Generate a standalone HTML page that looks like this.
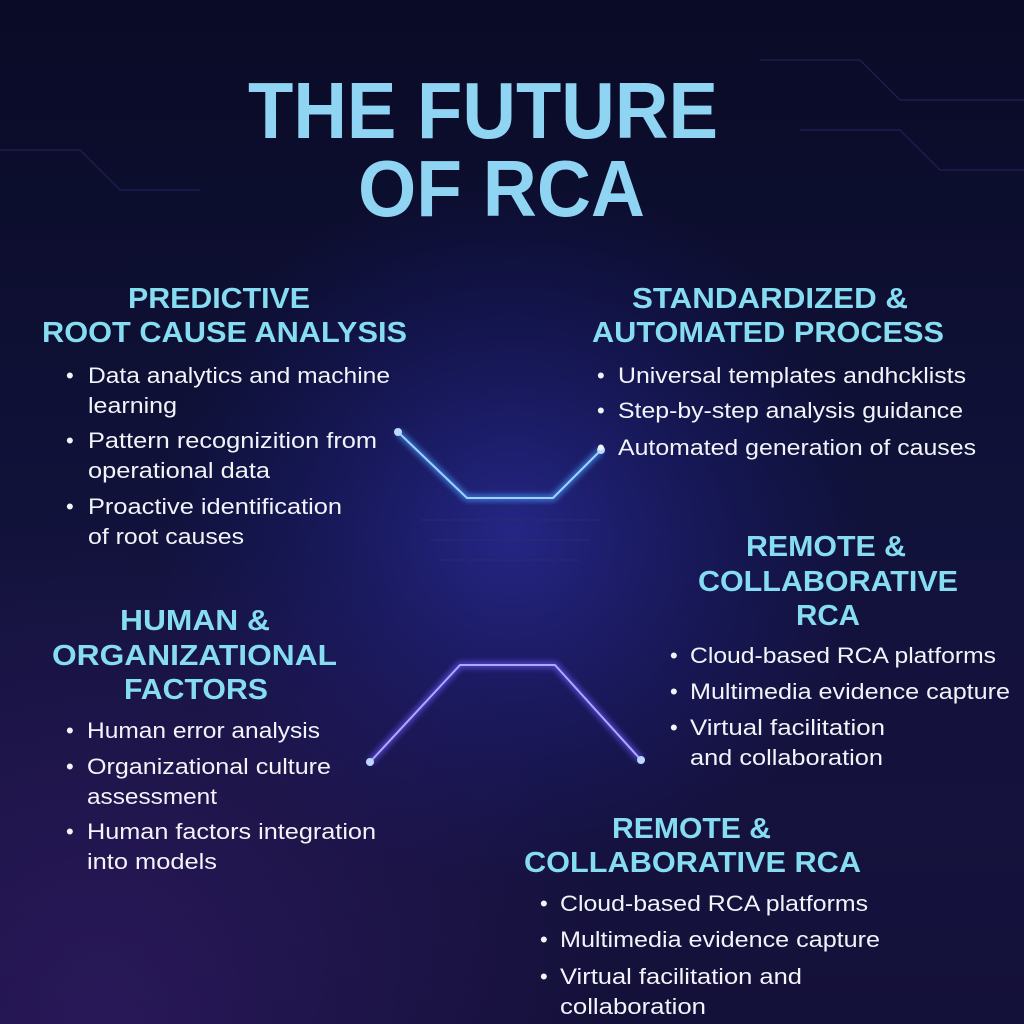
<!DOCTYPE html>
<html><head><meta charset="utf-8"><style>
html,body{margin:0;padding:0;background:#0a0b28;}
svg{display:block}
.t{font-family:"Liberation Sans",sans-serif;font-weight:bold;fill:#8fd4f2}
.h{font-family:"Liberation Sans",sans-serif;font-weight:bold;fill:#86dcf0;font-size:29px}
.b{font-family:"Liberation Sans",sans-serif;fill:#f2f4fa;font-size:22px}
</style></head><body>
<svg width="1024" height="1024" viewBox="0 0 1024 1024" xmlns="http://www.w3.org/2000/svg">
<defs>
<linearGradient id="bg" x1="0" y1="0" x2="0" y2="1">
<stop offset="0" stop-color="#0a0b26"/><stop offset="0.5" stop-color="#10123a"/><stop offset="1" stop-color="#22175050"/>
</linearGradient>
<radialGradient id="glow" cx="0.5" cy="0.52" r="0.35">
<stop offset="0" stop-color="#3a3ad0" stop-opacity="0.5"/><stop offset="1" stop-color="#2020a0" stop-opacity="0"/>
</radialGradient>
<radialGradient id="glow2" cx="0.1" cy="1" r="0.5">
<stop offset="0" stop-color="#4a2488" stop-opacity="0.4"/><stop offset="1" stop-color="#4a2488" stop-opacity="0"/>
</radialGradient>
<filter id="gl"><feGaussianBlur stdDeviation="3"/></filter>
</defs>
<rect width="1024" height="1024" fill="#0c0d2e"/>
<rect width="1024" height="1024" fill="url(#bg)"/>
<rect width="1024" height="1024" fill="url(#glow)"/>
<rect width="1024" height="1024" fill="url(#glow2)"/>
<g stroke="#2a3070" stroke-width="1.5" fill="none" opacity="0.5">
<path d="M760 60 L860 60 L900 100 L1024 100"/><path d="M800 130 L900 130 L940 170 L1024 170"/>
<path d="M0 150 L80 150 L120 190 L200 190"/><path d="M420 520 L600 520"/><path d="M430 540 L590 540"/><path d="M440 560 L580 560"/>
</g>
<g fill="none" stroke-linejoin="round">
<path d="M398 432 L467 498 L553 498 L601 450" stroke="#4aa0ff" stroke-width="6" filter="url(#gl)" opacity="0.7"/>
<path d="M398 432 L467 498 L553 498 L601 450" stroke="#9fd0ff" stroke-width="2"/>
<path d="M370 762 L460 665 L555 665 L641 760" stroke="#6a5aff" stroke-width="6" filter="url(#gl)" opacity="0.7"/>
<path d="M370 762 L460 665 L555 665 L641 760" stroke="#b0a8ff" stroke-width="2"/>
</g>
<g fill="#bcd8ff"><circle cx="398" cy="432" r="4"/><circle cx="601" cy="450" r="4"/><circle cx="370" cy="762" r="4"/><circle cx="641" cy="760" r="4"/></g>

<text class="t" font-size="80" x="248" y="138" textLength="470" lengthAdjust="spacingAndGlyphs">THE FUTURE</text>
<text class="t" font-size="80" x="358" y="216" textLength="287" lengthAdjust="spacingAndGlyphs">OF RCA</text>

<text class="h" x="128" y="308" textLength="182" lengthAdjust="spacingAndGlyphs">PREDICTIVE</text>
<text class="h" x="42" y="342" textLength="365" lengthAdjust="spacingAndGlyphs">ROOT CAUSE ANALYSIS</text>
<text class="h" x="632" y="308" textLength="276" lengthAdjust="spacingAndGlyphs">STANDARDIZED &amp;</text>
<text class="h" x="592" y="342" textLength="352" lengthAdjust="spacingAndGlyphs">AUTOMATED PROCESS</text>
<text class="h" x="746" y="556" textLength="160" lengthAdjust="spacingAndGlyphs">REMOTE &amp;</text>
<text class="h" x="698" y="591" textLength="260" lengthAdjust="spacingAndGlyphs">COLLABORATIVE</text>
<text class="h" x="796" y="625" textLength="64" lengthAdjust="spacingAndGlyphs">RCA</text>
<text class="h" x="120" y="630" textLength="150" lengthAdjust="spacingAndGlyphs">HUMAN &amp;</text>
<text class="h" x="52" y="665" textLength="285" lengthAdjust="spacingAndGlyphs">ORGANIZATIONAL</text>
<text class="h" x="124" y="699" textLength="144" lengthAdjust="spacingAndGlyphs">FACTORS</text>
<text class="h" x="612" y="838" textLength="159" lengthAdjust="spacingAndGlyphs">REMOTE &amp;</text>
<text class="h" x="524" y="872" textLength="337" lengthAdjust="spacingAndGlyphs">COLLABORATIVE RCA</text>

<g class="b">
<text x="66" y="383">•</text><text x="88" y="383" textLength="302" lengthAdjust="spacingAndGlyphs">Data analytics and machine</text>
<text x="88" y="413" textLength="89" lengthAdjust="spacingAndGlyphs">learning</text>
<text x="66" y="448">•</text><text x="88" y="448" textLength="289" lengthAdjust="spacingAndGlyphs">Pattern recognizition from</text>
<text x="88" y="478" textLength="182" lengthAdjust="spacingAndGlyphs">operational data</text>
<text x="66" y="514">•</text><text x="88" y="514" textLength="254" lengthAdjust="spacingAndGlyphs">Proactive identification</text>
<text x="88" y="544" textLength="156" lengthAdjust="spacingAndGlyphs">of root causes</text>

<text x="597" y="383">•</text><text x="618" y="383" textLength="348" lengthAdjust="spacingAndGlyphs">Universal templates andhcklists</text>
<text x="597" y="418">•</text><text x="618" y="418" textLength="345" lengthAdjust="spacingAndGlyphs">Step-by-step analysis guidance</text>
<text x="597" y="455">•</text><text x="618" y="455" textLength="358" lengthAdjust="spacingAndGlyphs">Automated generation of causes</text>

<text x="670" y="663">•</text><text x="690" y="663" textLength="306" lengthAdjust="spacingAndGlyphs">Cloud-based RCA platforms</text>
<text x="670" y="699">•</text><text x="690" y="699" textLength="320" lengthAdjust="spacingAndGlyphs">Multimedia evidence capture</text>
<text x="670" y="735">•</text><text x="690" y="735" textLength="195" lengthAdjust="spacingAndGlyphs">Virtual facilitation</text>
<text x="690" y="765" textLength="193" lengthAdjust="spacingAndGlyphs">and collaboration</text>

<text x="66" y="738">•</text><text x="87" y="738" textLength="233" lengthAdjust="spacingAndGlyphs">Human error analysis</text>
<text x="66" y="774">•</text><text x="87" y="774" textLength="244" lengthAdjust="spacingAndGlyphs">Organizational culture</text>
<text x="87" y="804" textLength="130" lengthAdjust="spacingAndGlyphs">assessment</text>
<text x="66" y="839">•</text><text x="87" y="839" textLength="289" lengthAdjust="spacingAndGlyphs">Human factors integration</text>
<text x="87" y="869" textLength="130" lengthAdjust="spacingAndGlyphs">into models</text>

<text x="540" y="911">•</text><text x="560" y="911" textLength="308" lengthAdjust="spacingAndGlyphs">Cloud-based RCA platforms</text>
<text x="540" y="947">•</text><text x="560" y="947" textLength="320" lengthAdjust="spacingAndGlyphs">Multimedia evidence capture</text>
<text x="540" y="984">•</text><text x="560" y="984" textLength="242" lengthAdjust="spacingAndGlyphs">Virtual facilitation and</text>
<text x="560" y="1014" textLength="146" lengthAdjust="spacingAndGlyphs">collaboration</text>
</g>
</svg>
</body></html>
